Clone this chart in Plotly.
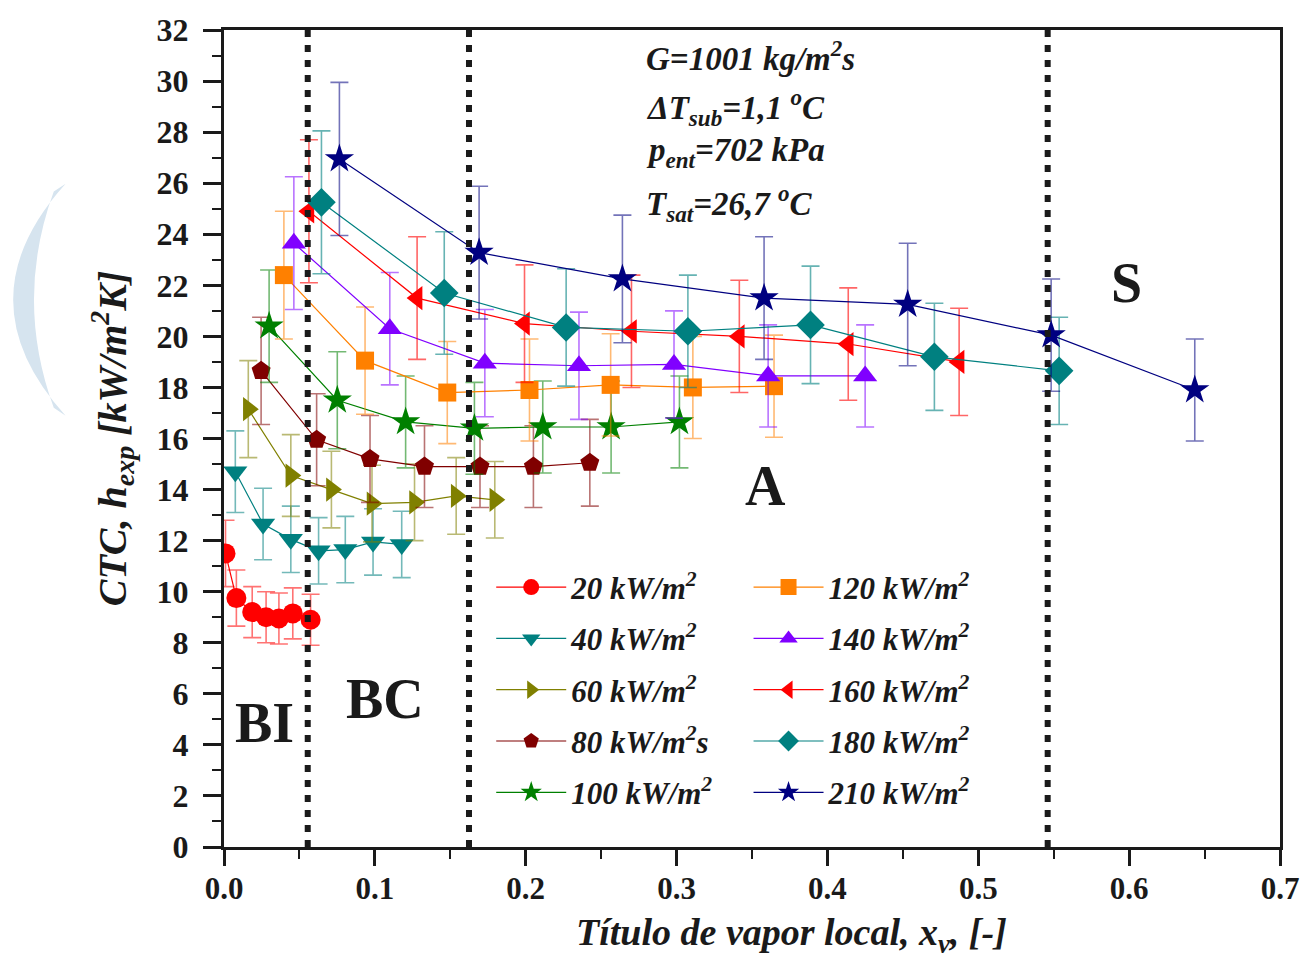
import plotly.graph_objects as go

# ---------------- data ----------------
series_names = ["20 kW/m<sup>2</sup>", "40 kW/m<sup>2</sup>", "60 kW/m<sup>2</sup>",
                "80 kW/m<sup>2</sup>s", "100 kW/m<sup>2</sup>", "120 kW/m<sup>2</sup>",
                "140 kW/m<sup>2</sup>", "160 kW/m<sup>2</sup>", "180 kW/m<sup>2</sup>",
                "210 kW/m<sup>2</sup>"]

x20 = [0.001, 0.0082, 0.0187, 0.0279, 0.0364, 0.0456, 0.0574]
y20 = [11.5, 9.75, 9.2, 9.0, 8.95, 9.15, 8.9]
e20 = [1.3, 1.1, 1.0, 1.0, 1.0, 1.0, 1.0]

x40 = [0.0075, 0.0259, 0.0443, 0.0627, 0.0804, 0.0988, 0.1178]
y40 = [14.7, 12.65, 12.05, 11.6, 11.65, 11.95, 11.85]
e40 = [1.6, 1.4, 1.3, 1.3, 1.3, 1.3, 1.3]

x60 = [0.0161, 0.0443, 0.0712, 0.0981, 0.1263, 0.1539, 0.1795]
y60 = [17.15, 14.55, 14.0, 13.45, 13.5, 13.75, 13.6]
e60 = [1.9, 1.6, 1.5, 1.5, 1.5, 1.5, 1.5]

x80 = [0.0246, 0.0614, 0.0968, 0.1329, 0.1697, 0.2051, 0.2425]
y80 = [18.65, 15.95, 15.2, 14.9, 14.9, 14.9, 15.05]
e80 = [2.1, 1.8, 1.7, 1.6, 1.6, 1.6, 1.7]

x100 = [0.0299, 0.0751, 0.1204, 0.1660, 0.2113, 0.2566, 0.3019]
y100 = [20.4, 17.5, 16.65, 16.4, 16.45, 16.45, 16.65]
e100 = [2.2, 1.9, 1.8, 1.8, 1.8, 1.8, 1.8]

x120 = [0.0397, 0.0935, 0.1480, 0.2025, 0.2563, 0.3108, 0.3646]
y120 = [22.4, 19.05, 17.8, 17.9, 18.1, 18.0, 18.05]
e120 = [2.5, 2.1, 2.0, 2.0, 2.0, 2.0, 2.0]

x140 = [0.0463, 0.1099, 0.1729, 0.2353, 0.2983, 0.3607, 0.4250]
y140 = [23.65, 20.3, 18.95, 18.85, 18.9, 18.45, 18.45]
e140 = [2.6, 2.2, 2.1, 2.1, 2.1, 2.0, 2.0]

x160 = [0.0563, 0.1280, 0.1992, 0.2701, 0.3416, 0.4138, 0.4873]
y160 = [24.9, 21.5, 20.5, 20.2, 20.0, 19.7, 19.0]
e160 = [2.8, 2.4, 2.3, 2.2, 2.2, 2.2, 2.1]

x180 = [0.0646, 0.1460, 0.2268, 0.3075, 0.3888, 0.4709, 0.5536]
y180 = [25.25, 21.7, 20.35, 20.2, 20.45, 19.2, 18.65]
e180 = [2.8, 2.4, 2.3, 2.2, 2.3, 2.1, 2.1]

x210 = [0.0765, 0.1691, 0.2641, 0.3580, 0.4532, 0.5483, 0.6435]
y210 = [26.95, 23.28, 22.25, 21.5, 21.25, 20.05, 17.9]
e210 = [3.0, 2.6, 2.5, 2.4, 2.4, 2.2, 2.0]

region_bounds = [0.0555, 0.1624, 0.546]
region_labels = ["BI", "BC", "A", "S"]
region_label_x = [0.027, 0.107, 0.359, 0.598]
region_label_y = [4.85, 5.8, 14.15, 22.1]

x_ticks = [0.0, 0.1, 0.2, 0.3, 0.4, 0.5, 0.6, 0.7]
x_ticklabels = ["0.0", "0.1", "0.2", "0.3", "0.4", "0.5", "0.6", "0.7"]
y_ticks = list(range(0, 33, 2))

# ---------------- style ----------------
FONT = "Liberation Serif"
xs = [x20, x40, x60, x80, x100, x120, x140, x160, x180, x210]
ys = [y20, y40, y60, y80, y100, y120, y140, y160, y180, y210]
es = [e20, e40, e60, e80, e100, e120, e140, e160, e180, e210]
colors = ["#FF0000", "#008080", "#808000", "#800000", "#008000",
          "#FF8000", "#8000FF", "#FF0000", "#008080", "#000080"]
err_colors = ["rgba(255,0,0,0.55)", "rgba(0,128,128,0.55)", "rgba(128,128,0,0.55)",
              "rgba(128,0,0,0.55)", "rgba(0,128,0,0.55)", "rgba(255,128,0,0.55)",
              "rgba(128,0,255,0.55)", "rgba(255,0,0,0.6)", "rgba(0,128,128,0.6)",
              "rgba(0,0,128,0.55)"]
symbols = ["circle", "triangle-down", "triangle-right", "pentagon", "star",
           "square", "triangle-up", "triangle-left", "diamond", "star"]
sizes = [20, 21, 21, 20, 22, 18, 21, 21, 22, 22]

fig = go.Figure()
for i in range(10):
    fig.add_trace(go.Scatter(
        x=xs[i], y=ys[i], mode="lines+markers", name=series_names[i],
        legend="legend" if i < 5 else "legend2",
        legendgroup="g%d" % i,
        line=dict(color=colors[i], width=1.2),
        marker=dict(symbol=symbols[i], size=sizes[i], color=colors[i],
                    line=dict(width=0)),
        error_y=dict(type="data", array=es[i], visible=True,
                     color=err_colors[i], thickness=1.6, width=9),
    ))

def pp(px, py):
    return ((px - 224) / 1067.0, (847 - py) / 824.0)

# decorative light-blue arc at left edge
a0 = pp(64, 178); c0 = pp(-42, 295); a1 = pp(64, 412)
b1 = pp(52, 404); c1 = pp(12, 295); b0 = pp(52, 186)
arc_path = ("M {:.4f},{:.4f} Q {:.4f},{:.4f} {:.4f},{:.4f} L {:.4f},{:.4f} "
            "Q {:.4f},{:.4f} {:.4f},{:.4f} Z").format(
    a0[0], a0[1], c0[0], c0[1], a1[0], a1[1], b1[0], b1[1], c1[0], c1[1], b0[0], b0[1])

shapes = [dict(type="path", xref="paper", yref="paper", path=arc_path,
               fillcolor="#D6E4EF", line=dict(width=0), layer="below")]
for b in region_bounds:
    shapes.append(dict(type="line", xref="x", yref="paper", x0=b, x1=b, y0=0, y1=1,
                       line=dict(color="#1a1a1a", width=6, dash="7px,8px")))

annotations = []
for lab, lx, ly in zip(region_labels, region_label_x, region_label_y):
    annotations.append(dict(x=lx, y=ly, xref="x", yref="y", text=lab, showarrow=False,
                            font=dict(family=FONT, size=56, color="#1a1a1a", weight="bold")))

info_lines = ["G=1001 kg/m<sup>2</sup>s",
              "\u0394T<sub>sub</sub>=1,1 <sup>o</sup>C",
              "p<sub>ent</sub>=702 kPa",
              "T<sub>sat</sub>=26,7 <sup>o</sup>C"]
info_y = [0.968, 0.905, 0.850, 0.788]
for t, yy in zip(info_lines, info_y):
    annotations.append(dict(x=(648 - 224) / 1067.0, y=yy, xref="paper", yref="paper",
                            xanchor="left", yanchor="middle", text=t, showarrow=False,
                            font=dict(family=FONT, size=33, color="#1a1a1a",
                                      weight="bold", style="italic")))

annotations.append(dict(x=(797 - 224) / 1067.0, y=(847 - 936) / 824.0, xref="paper", yref="paper",
                        xanchor="center", yanchor="middle",
                        text="Título de vapor local, x<sub>v</sub>, [-]", showarrow=False,
                        font=dict(family=FONT, size=38, color="#1a1a1a",
                                  weight="bold", style="italic")))

legend_font = dict(family=FONT, size=31, color="#1a1a1a", weight="bold", style="italic")
fig.update_layout(
    width=1311, height=962,
    margin=dict(l=224, r=20, t=23, b=115),
    plot_bgcolor="white", paper_bgcolor="white",
    shapes=shapes, annotations=annotations,
    legend=dict(x=(494 - 224) / 1067.0, y=(847 - 558) / 824.0, xanchor="left", yanchor="top",
                bgcolor="rgba(0,0,0,0)", font=legend_font, itemwidth=70,
                tracegroupgap=8, traceorder="grouped"),
    legend2=dict(x=(754 - 224) / 1067.0, y=(847 - 558) / 824.0, xanchor="left", yanchor="top",
                 bgcolor="rgba(0,0,0,0)", font=legend_font, itemwidth=70,
                 tracegroupgap=8, traceorder="grouped"),
)

fig.update_xaxes(range=[0, 0.7], tickvals=x_ticks, ticktext=x_ticklabels,
                 showgrid=False, zeroline=False, showline=True, linecolor="#1a1a1a",
                 linewidth=3, mirror=True, ticks="outside", ticklen=16, tickwidth=3,
                 tickcolor="#1a1a1a", ticklabelstandoff=-4,
                 tickfont=dict(family=FONT, size=31, color="#1a1a1a", weight="bold"),
                 minor=dict(dtick=0.05, ticks="outside", ticklen=9, tickwidth=2,
                            tickcolor="#1a1a1a", showgrid=False))
fig.update_yaxes(range=[0, 32], tickvals=y_ticks,
                 showgrid=False, zeroline=False, showline=True, linecolor="#1a1a1a",
                 linewidth=3, mirror=True, ticks="outside", ticklen=18, tickwidth=3,
                 tickcolor="#1a1a1a", ticklabelstandoff=8,
                 tickfont=dict(family=FONT, size=32, color="#1a1a1a", weight="bold"),
                 minor=dict(dtick=1, ticks="outside", ticklen=9, tickwidth=2,
                            tickcolor="#1a1a1a", showgrid=False),
                 title=dict(text="CTC, h<sub>exp</sub> [kW/m<sup>2</sup>K]", standoff=18,
                            font=dict(family=FONT, size=40, color="#1a1a1a",
                                      weight="bold", style="italic")))

fig.write_html("out.html")
